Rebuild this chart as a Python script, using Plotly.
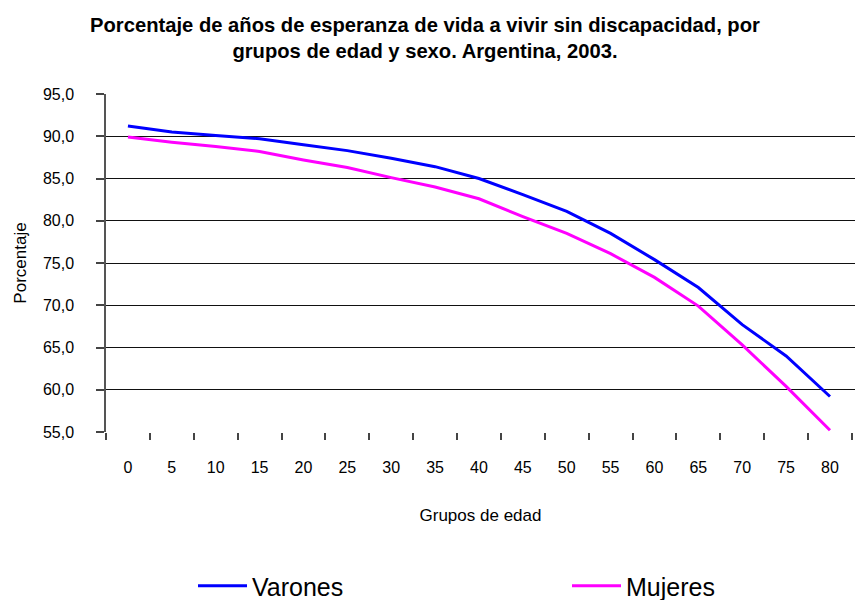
import plotly.graph_objects as go

edades = ["0", "5", "10", "15", "20", "25", "30", "35", "40", "45", "50", "55", "60", "65", "70", "75", "80"]
varones = [91.2, 90.5, 90.1, 89.7, 89.0, 88.3, 87.4, 86.4, 85.0, 83.1, 81.1, 78.5, 75.4, 72.1, 67.7, 64.0, 59.2]
mujeres = [89.9, 89.3, 88.8, 88.2, 87.2, 86.3, 85.1, 84.0, 82.6, 80.5, 78.5, 76.1, 73.3, 69.9, 65.3, 60.4, 55.2]

titulo = "<b>Porcentaje de años de esperanza de vida a vivir sin discapacidad, por<br>grupos de edad y sexo. Argentina, 2003.</b>"
fuente = "Liberation Sans, Arial, sans-serif"

fig = go.Figure()
fig.add_trace(go.Scatter(x=edades, y=varones, mode="lines", name="Varones",
                         line=dict(color="#0000FF", width=3)))
fig.add_trace(go.Scatter(x=edades, y=mujeres, mode="lines", name="Mujeres",
                         line=dict(color="#FF00FF", width=3)))

fig.update_layout(
    width=855, height=600,
    separators=",.",
    paper_bgcolor="white", plot_bgcolor="white",
    font=dict(family=fuente, color="black", size=16),
    margin=dict(l=106, r=0, t=94, b=168),
    title=dict(text=titulo, x=425 / 855, xanchor="center", xref="container",
               y=1 - 32 / 600, yanchor="middle", yref="container",
               font=dict(size=20.2, family=fuente, color="black")),
    xaxis=dict(type="category", range=[-0.5, 16.57], tickson="boundaries",
               ticks="outside", ticklen=7, tickcolor="#444444", tickwidth=1.5,
               showgrid=False, showline=False, zeroline=False,
               ticklabelstandoff=24,
               title=dict(text="Grupos de edad", standoff=34, font=dict(size=17))),
    yaxis=dict(range=[55, 95], dtick=5, tickformat=".1f", ticks="outside", ticklen=8,
               tickcolor="#444444", tickwidth=1.5, ticklabelstandoff=19,
               showgrid=True, gridcolor="#111111", gridwidth=1,
               showline=True, linecolor="#555555", linewidth=1.5, zeroline=False,
               title=dict(text="Porcentaje", standoff=12, font=dict(size=17))),
    legend=dict(orientation="h", xref="container", yref="container",
                x=193 / 855, xanchor="left", y=1 - 586 / 600, yanchor="middle",
                entrywidth=310, entrywidthmode="pixels", itemwidth=49,
                font=dict(size=25, family=fuente)),
)

fig.write_html("out.html", config={"displayModeBar": False},
               post_script="document.body.style.margin='0';")
